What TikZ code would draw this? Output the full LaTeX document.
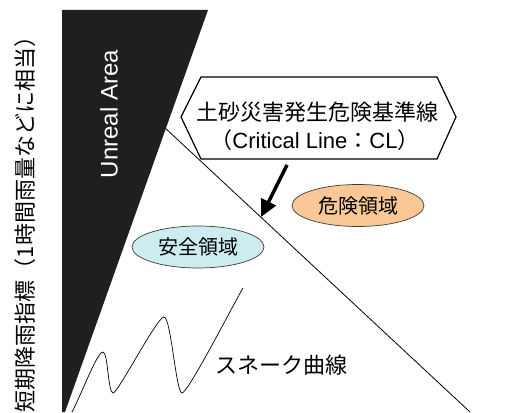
\documentclass[tikz,border=0pt]{standalone}
\usepackage{fontspec}
\setmainfont{Liberation Sans}
\newfontfamily\jp{Noto Sans CJK JP}
\usetikzlibrary{arrows.meta}
\definecolor{dangerfill}{RGB}{250,200,150}
\definecolor{safefill}{RGB}{205,236,240}
\definecolor{edgegray}{RGB}{60,60,60}
\tikzset{
  jptext/.style={font=\jp\fontsize{22}{26}\selectfont, text=black, inner sep=0pt},
  zone/.style={ellipse, draw=edgegray, line width=0.7pt, minimum width=132pt, minimum height=42pt, inner sep=0pt, font=\jp\fontsize{20}{24}\selectfont},
  thinline/.style={line width=0.8pt, black},
}
\usetikzlibrary{shapes.geometric}
\begin{document}
\begin{tikzpicture}[x=1pt,y=1pt]
\useasboundingbox (0,0) rectangle (513,412);
% critical line
\coordinate (clstart) at (159,289.7);
\coordinate (clend) at (470,0);
\draw[thinline] (clstart) -- (clend);
% unreal area
\fill[black!88] (62,402) -- (208,402) -- (65,0) -- (62,0) -- cycle;
\node[font=\fontsize{24}{28}\selectfont, text=white, rotate=90, inner sep=0pt] (unreal) at (109,298) {Unreal Area};
% y axis label
\node[jptext, rotate=90] (ylabel) at (25,193) {短期降雨指標（1時間雨量などに相当）};
% hexagon callout
\coordinate (hl) at (181,295);
\coordinate (htl) at (201,335);
\coordinate (htr) at (437,335);
\coordinate (hr) at (456,295);
\coordinate (hbr) at (437,253);
\coordinate (hbl) at (201,253);
\draw[line width=1.2pt, fill=white] (hl) -- (htl) -- (htr) -- (hr) -- (hbr) -- (hbl) -- cycle;
\node[jptext, anchor=base] (cl1) at (317,291) {土砂災害発生危険基準線};
\node[font=\fontsize{22}{26}\selectfont, inner sep=0pt, anchor=base] (cl2) at (315,263) {{\jp （}Critical Line{\jp ：}CL{\jp ）}};
% arrow
\coordinate (atail) at (287,247);
\coordinate (atip) at (261,195);
\draw[line width=3.5pt, -{Triangle[length=17pt,width=16pt]}] (atail) -- (atip);
% zones
\node[zone, fill=dangerfill] (danger) at (358,206.5) {危険領域};
\node[zone, fill=safefill] (safe) at (198,165) {安全領域};
% snake curve
\draw[line width=0.7pt] (72,0) .. controls (82,19) and (97,60) .. (103,60)
  .. controls (108,60) and (108,19) .. (113,19)
  .. controls (118,19) and (157,95) .. (164,95)
  .. controls (171,95) and (176,19) .. (182,19)
  .. controls (188,19) and (233,107) .. (243,124);
\node[jptext] (snake) at (281,47) {スネーク曲線};
\end{tikzpicture}
\end{document}
